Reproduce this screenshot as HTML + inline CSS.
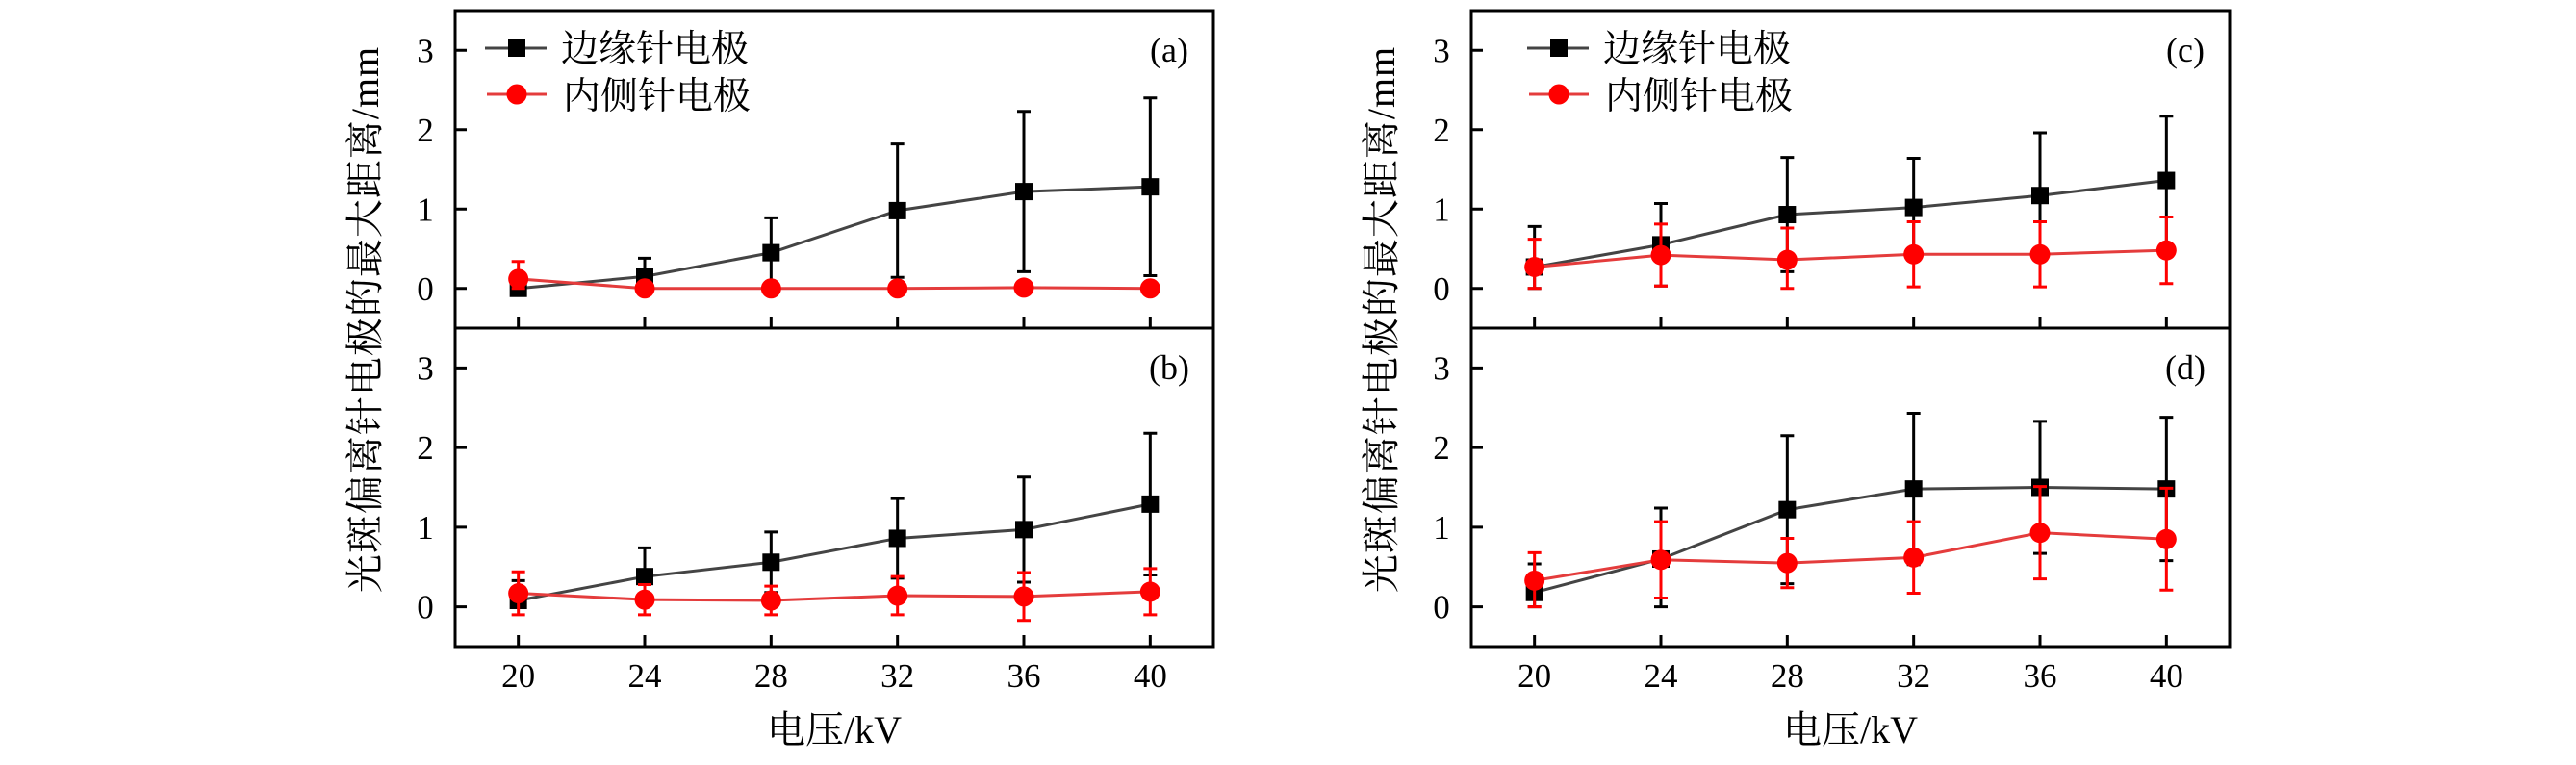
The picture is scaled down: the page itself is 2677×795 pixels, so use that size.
<!DOCTYPE html>
<html><head><meta charset="utf-8">
<style>
html,body{margin:0;padding:0;background:#fff;}
svg{display:block;}
text{font-family:"Liberation Serif","Noto Serif CJK SC","Noto Sans CJK SC",serif;fill:#000;}
.cjk{font-family:"Liberation Serif","Noto Serif CJK SC","Noto Sans CJK SC",serif;}
</style></head>
<body>
<svg id="fig" width="2677" height="795" viewBox="0 0 2677 795" xmlns="http://www.w3.org/2000/svg"></svg>
<script>
const voltages = [20, 24, 28, 32, 36, 40];
const xTicks = ["20", "24", "28", "32", "36", "40"];
const yTicks = [0, 1, 2, 3];
const edgeA = [0, 0.15, 0.45, 0.98, 1.22, 1.28];
const edgeAErr = [0.07, 0.23, 0.44, 0.84, 1.01, 1.12];
const edgeALow = [0, 0.15, 0.44, 0.84, 1.01, 1.12];
const innerA = [0.12, 0, 0, 0, 0.01, 0];
const innerAErr = [0.22, 0, 0, 0, 0, 0];
const innerALow = [0.12, 0, 0, 0, 0, 0];
const edgeB = [0.08, 0.38, 0.56, 0.86, 0.97, 1.29];
const edgeBErr = [0.25, 0.36, 0.38, 0.5, 0.66, 0.89];
const edgeBLow = [0.08, 0.36, 0.38, 0.5, 0.66, 0.89];
const innerB = [0.17, 0.09, 0.08, 0.14, 0.13, 0.19];
const innerBErr = [0.27, 0.19, 0.18, 0.24, 0.3, 0.29];
const innerBLow = [0.27, 0.19, 0.18, 0.24, 0.3, 0.29];
const edgeC = [0.27, 0.55, 0.93, 1.02, 1.17, 1.36];
const edgeCErr = [0.51, 0.52, 0.72, 0.62, 0.79, 0.81];
const edgeCLow = [0.27, 0.52, 0.72, 0.62, 0.79, 0.81];
const innerC = [0.27, 0.42, 0.36, 0.43, 0.43, 0.48];
const innerCErr = [0.35, 0.39, 0.4, 0.41, 0.41, 0.42];
const innerCLow = [0.27, 0.39, 0.36, 0.41, 0.41, 0.42];
const edgeD = [0.18, 0.6, 1.22, 1.48, 1.5, 1.48];
const edgeDErr = [0.36, 0.64, 0.93, 0.95, 0.83, 0.9];
const edgeDLow = [0.18, 0.6, 0.93, 0.95, 0.83, 0.9];
const innerD = [0.33, 0.59, 0.55, 0.62, 0.93, 0.85];
const innerDErr = [0.35, 0.48, 0.31, 0.45, 0.58, 0.64];
const innerDLow = [0.33, 0.48, 0.31, 0.45, 0.58, 0.64];

const NS = "http://www.w3.org/2000/svg";
const svg = document.getElementById("fig");
function mk(tag, attrs, parent) {
  const e = document.createElementNS(NS, tag);
  for (const k in attrs) e.setAttribute(k, attrs[k]);
  (parent || svg).appendChild(e);
  return e;
}
const XMIN = 18, XMAX = 42, YMIN = -0.5, YMAX = 3.5;

function drawPanel(left, top, bottom, label, edge, edgeErr, edgeLow, inner, innerErr, innerLow, showXLabels) {
  const right = left + 788;
  const sx = v => left + (v - XMIN) / (XMAX - XMIN) * (right - left);
  const sy = v => bottom - (v - YMIN) / (YMAX - YMIN) * (bottom - top);
  const g = mk("g", {});
  
  
  yTicks.forEach(t => {
    const tk = mk("line", {x1: left, x2: left + 12, y1: sy(t), y2: sy(t), stroke: "#000", "stroke-width": 3}, g);
    
    
    const tl = mk("text", {x: left - 31, y: sy(t) + 12, "font-size": 35, "text-anchor": "middle"}, g);
    tl.textContent = String(t);
    
    
  });
  voltages.forEach((v, i) => {
    const tk = mk("line", {x1: sx(v), x2: sx(v), y1: bottom, y2: bottom - 12, stroke: "#000", "stroke-width": 3}, g);
    
    
    if (showXLabels) {
      const tl = mk("text", {x: sx(v), y: bottom + 42, "font-size": 35, "text-anchor": "middle"}, g);
      tl.textContent = xTicks[i];
      
      
    }
  });
  function series(vals, errs, lows, color, lineColor, marker, name) {
    const sg = mk("g", {}, g);
    
    
    const pts = vals.map((v, i) => sx(voltages[i]) + "," + sy(v)).join(" ");
    const pl = mk("polyline", {points: pts, fill: "none", stroke: lineColor, "stroke-width": 3}, sg);
    
    
    vals.forEach((v, i) => {
      const x = sx(voltages[i]);
      if (errs[i] > 0 || lows[i] > 0) {
        const hi = sy(v + errs[i]), lo = sy(v - lows[i]);
        const eb = mk("path", {d: `M${x},${lo}V${hi}M${x - 7},${hi}h14M${x - 7},${lo}h14`, stroke: color, "stroke-width": 3, fill: "none"}, sg);
        
        
      }
    });
    vals.forEach((v, i) => {
      const x = sx(voltages[i]), y = sy(v);
      let m;
      if (marker === "sq") m = mk("rect", {x: x - 9, y: y - 9, width: 18, height: 18, fill: color}, sg);
      else m = mk("circle", {cx: x, cy: y, r: 10.5, fill: color}, sg);
      
      
    });
  }
  series(edge, edgeErr, edgeLow, "#000", "#444", "sq", "edge-electrode");
  series(inner, innerErr, innerLow, "#f00", "#e43c3c", "ci", "inner-electrode");
  const box = mk("rect", {x: left, y: top, width: right - left, height: bottom - top, fill: "none", stroke: "#000", "stroke-width": 3}, g);
  
  
  const pl = mk("text", {x: right - 46, y: top + 53, "font-size": 36, "text-anchor": "middle"}, g);
  pl.textContent = "(" + label + ")";
  
  
}

function drawLegend(x0) {
  const lg = mk("g", {});
  
  
  const l1 = mk("line", {x1: x0, x2: x0 + 64, y1: 50, y2: 50, stroke: "#444", "stroke-width": 3}, lg);
  
  
  const r1 = mk("rect", {x: x0 + 24, y: 41, width: 18, height: 18, fill: "#000"}, lg);
  
  
  const t1 = mk("text", {x: x0 + 79, y: 64, "font-size": 39, class: "cjk"}, lg);
  t1.textContent = "边缘针电极";
  
  
  const l2 = mk("line", {x1: x0 + 2, x2: x0 + 64, y1: 98, y2: 98, stroke: "#e43c3c", "stroke-width": 3}, lg);
  
  
  const c2 = mk("circle", {cx: x0 + 33, cy: 98, r: 10.5, fill: "#f00"}, lg);
  
  
  const t2 = mk("text", {x: x0 + 81, y: 113, "font-size": 39, class: "cjk"}, lg);
  t2.textContent = "内侧针电极";
  
  
}

function drawAxisTitles(left) {
  const yt = mk("text", {x: 0, y: 0, "font-size": 40, "text-anchor": "middle", class: "cjk", "letter-spacing": "1", transform: `translate(${left - 80},332) rotate(-90)`});
  yt.textContent = "光斑偏离针电极的最大距离/mm";
  
  
  const xt = mk("text", {x: left + 394, y: 772, "font-size": 40, "text-anchor": "middle", class: "cjk"});
  xt.textContent = "电压/kV";
  
  
}

drawPanel(473, 11, 341, "a", edgeA, edgeAErr, edgeALow, innerA, innerAErr, innerALow, false);
drawPanel(473, 341, 672, "b", edgeB, edgeBErr, edgeBLow, innerB, innerBErr, innerBLow, true);
drawPanel(1529, 11, 341, "c", edgeC, edgeCErr, edgeCLow, innerC, innerCErr, innerCLow, false);
drawPanel(1529, 341, 672, "d", edgeD, edgeDErr, edgeDLow, innerD, innerDErr, innerDLow, true);
drawLegend(504);
drawLegend(1587);
drawAxisTitles(473);
drawAxisTitles(1529);
</script>
</body></html>
